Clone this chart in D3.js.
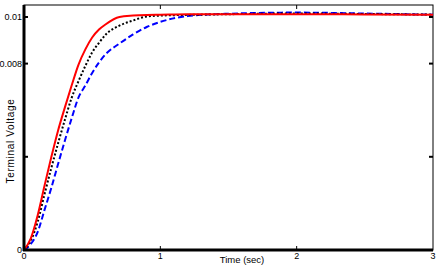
<!DOCTYPE html>
<html>
<head>
<meta charset="utf-8">
<script src="https://cdn.jsdelivr.net/npm/d3@7"></script>
<style>
  body { margin: 0; background: #fff; }
  text { font-family: "Liberation Sans", Arial, sans-serif; font-size: 9px; fill: #000; }
</style>
</head>
<body>
<div id="chart"></div>
<script>
// time samples (sec)
const time = [0, 0.05, 0.1, 0.15, 0.2, 0.25, 0.3, 0.35, 0.4, 0.45, 0.5, 0.55, 0.6, 0.7, 0.8, 0.9, 1.0, 1.2, 1.5, 2.0, 2.5, 3.0];
// terminal voltage, three cases
const redSeries   = [0, 0.00050, 0.00148, 0.00275, 0.00398, 0.00513, 0.00612, 0.00707, 0.00796, 0.00861, 0.00912, 0.00946, 0.00969, 0.0100, 0.01006, 0.01009, 0.0101, 0.01012, 0.01012, 0.01012, 0.01011, 0.0101];
const blackSeries = [0, 0.00040, 0.0012, 0.00238, 0.00351, 0.00458, 0.00559, 0.00654, 0.00725, 0.0079, 0.00848, 0.00889, 0.00925, 0.00963, 0.00985, 0.01002, 0.01006, 0.01009, 0.01012, 0.01015, 0.01013, 0.0101];
const blueSeries  = [0, 0.00026, 0.00077, 0.00171, 0.00266, 0.00369, 0.0047, 0.00566, 0.00655, 0.00706, 0.0076, 0.00805, 0.00841, 0.00886, 0.00925, 0.00957, 0.00979, 0.01004, 0.01014, 0.01019, 0.01015, 0.0101];
const xTicks = [0, 1, 2, 3];
const yTicks = [0, 0.004, 0.008, 0.01];
const yTickLabels = ["0", "", "0.008", "0.01"];

const W = 442, H = 268;
const margin = { top: 5, right: 9, bottom: 18, left: 24 };
const width = W - margin.left - margin.right,
  height = H - margin.top - margin.bottom;

const svg = d3.select("#chart").append("svg")
  .attr("width", W).attr("height", H);
const g = svg.append("g")
  .attr("transform", `translate(${margin.left},${margin.top})`);

const x = d3.scaleLinear().domain([0, 3]).range([0, width]);
const y = d3.scaleLinear().domain([0, 0.010515]).range([height, 0]);

// frame (thin top/right)
g.append("rect")
  .attr("x", 0).attr("y", 0)
  .attr("width", width).attr("height", height)
  .attr("fill", "none").attr("stroke", "#000").attr("stroke-width", 1);

// lines
const line = (vals) => d3.line()
  .x((d, i) => x(time[i]))
  .y((d) => y(d))
  .curve(d3.curveMonotoneX)(vals);

const series = [
  { vals: blueSeries, color: "#0000ff", dash: "6,3" },
  { vals: blackSeries, color: "#000", dash: "2,2" },
  { vals: redSeries, color: "#ff0000", dash: null },
];
series.forEach((s) => {
  g.append("path")
    .attr("d", line(s.vals))
    .attr("fill", "none")
    .attr("stroke", s.color)
    .attr("stroke-width", 2)
    .attr("stroke-dasharray", s.dash);
});

// ticks inside the frame
g.append("g").selectAll("line")
  .data(xTicks.slice(1, -1))
  .join("line")
  .attr("x1", (d) => x(d)).attr("x2", (d) => x(d))
  .attr("y1", height).attr("y2", height - 4)
  .attr("stroke", "#000");
g.append("g").selectAll("line")
  .data(xTicks.slice(1, -1))
  .join("line")
  .attr("x1", (d) => x(d)).attr("x2", (d) => x(d))
  .attr("y1", 0).attr("y2", 4)
  .attr("stroke", "#000");
g.append("g").selectAll("line")
  .data(yTicks.slice(1))
  .join("line")
  .attr("x1", 0).attr("x2", 4)
  .attr("y1", (d) => y(d)).attr("y2", (d) => y(d))
  .attr("stroke", "#000").attr("stroke-width", 2);
g.append("g").selectAll("line")
  .data(yTicks.slice(1))
  .join("line")
  .attr("x1", width).attr("x2", width - 4)
  .attr("y1", (d) => y(d)).attr("y2", (d) => y(d))
  .attr("stroke", "#000").attr("stroke-width", 2);

// thick left and bottom axes
g.append("line")
  .attr("x1", 0).attr("x2", 0).attr("y1", 0).attr("y2", height + 1)
  .attr("stroke", "#000").attr("stroke-width", 3);
g.append("line")
  .attr("x1", -1).attr("x2", width).attr("y1", height).attr("y2", height)
  .attr("stroke", "#000").attr("stroke-width", 3);

// tick labels
g.append("g").selectAll("text")
  .data(xTicks)
  .join("text")
  .attr("x", (d) => x(d))
  .attr("y", height + 9)
  .attr("text-anchor", "middle")
  .text((d) => d);
g.append("g").selectAll("text")
  .data(yTicks)
  .join("text")
  .attr("x", -2)
  .attr("y", (d) => y(d) + 3)
  .attr("text-anchor", "end")
  .text((d, i) => yTickLabels[i]);

// axis titles
svg.append("text")
  .attr("x", 242).attr("y", 263)
  .attr("text-anchor", "middle")
  .style("font-size", "9.5px")
  .text("Time (sec)");
svg.append("text")
  .attr("transform", "translate(14,141) rotate(-90)")
  .attr("text-anchor", "middle")
  .style("font-size", "10px")
  .style("letter-spacing", "0.7px")
  .text("Terminal Voltage");
</script>
</body>
</html>
